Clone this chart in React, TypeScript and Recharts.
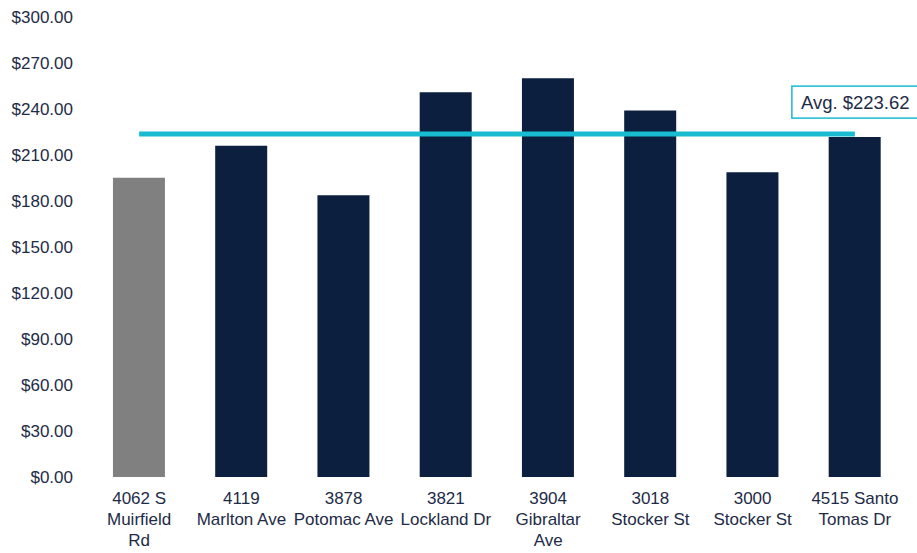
import React from "react";
import { ComposedChart, Bar, Line, XAxis, YAxis, Cell, LabelList } from "recharts";

const categories = [
  "4062 S Muirfield Rd",
  "4119 Marlton Ave",
  "3878 Potomac Ave",
  "3821 Lockland Dr",
  "3904 Gibraltar Ave",
  "3018 Stocker St",
  "3000 Stocker St",
  "4515 Santo Tomas Dr",
];
const tickLines: string[][] = [
  ["4062 S", "Muirfield", "Rd"],
  ["4119", "Marlton Ave"],
  ["3878", "Potomac Ave"],
  ["3821", "Lockland Dr"],
  ["3904", "Gibraltar", "Ave"],
  ["3018", "Stocker St"],
  ["3000", "Stocker St"],
  ["4515 Santo", "Tomas Dr"],
];
const rents = [195.2, 216.1, 183.7, 250.9, 260.0, 239.1, 198.7, 221.7];
const average = 223.62;
const yTicks = [0, 30, 60, 90, 120, 150, 180, 210, 240, 270, 300];
const barColors = ["#808080", "#0C1F3E", "#0C1F3E", "#0C1F3E", "#0C1F3E", "#0C1F3E", "#0C1F3E", "#0C1F3E"];

const data = categories.map((c, i) => ({ name: c, rent: rents[i], avg: average, idx: i }));

const TEXT = "#1E2B47";
const CYAN = "#19BBD0";
const FONT = "'Liberation Sans', Arial, Helvetica, sans-serif";

const XTick = (props: any) => {
  const { x, y, payload } = props;
  const lines = tickLines[payload.index] || [String(payload.value)];
  return (
    <text x={x} y={y + 27} textAnchor="middle" fill={TEXT} fontSize={17} fontFamily={FONT}>
      {lines.map((l, i) => (
        <tspan key={i} x={x} dy={i === 0 ? 0 : 21}>
          {l}
        </tspan>
      ))}
    </text>
  );
};

const AvgLabel = (props: any) => {
  const { x, y, index } = props;
  if (index !== categories.length - 1) return null;
  const left = x - 63;
  const top = y - 48;
  return (
    <g>
      <rect x={left} y={top} width={130} height={32} fill="#ffffff" stroke={CYAN} strokeWidth={1.5} />
      <text x={left + 9} y={top + 22.5} fill={TEXT} fontSize={18.5} fontFamily={FONT}>
        {`Avg. $${average.toFixed(2)}`}
      </text>
    </g>
  );
};

export default function App() {
  return (
    <div style={{ position: "absolute", left: 0, top: 0, width: 917, height: 553, background: "#fff" }}>
      <ComposedChart
        width={917}
        height={553}
        data={data}
        margin={{ top: 17, right: 11, bottom: 0, left: 8 }}
        barCategoryGap="24.4%"
      >
        <XAxis
          dataKey="name"
          axisLine={false}
          tickLine={false}
          tickSize={0}
          tickMargin={0}
          interval={0}
          tick={<XTick />}
          height={76}
        />
        <YAxis
          domain={[0, 300]}
          ticks={yTicks}
          axisLine={false}
          tickLine={false}
          tickSize={0}
          tickMargin={15}
          width={80}
          interval={0}
          tick={{ fill: TEXT, fontSize: 17, fontFamily: FONT }}
          tickFormatter={(v: number) => `$${v.toFixed(2)}`}
        />
        <Bar dataKey="rent" isAnimationActive={false}>
          {data.map((d, i) => (
            <Cell key={i} fill={barColors[i]} />
          ))}
        </Bar>
        <Line
          dataKey="avg"
          stroke={CYAN}
          strokeWidth={5}
          dot={false}
          activeDot={false}
          isAnimationActive={false}
          type="linear"
        >
          <LabelList dataKey="avg" content={<AvgLabel />} />
        </Line>
      </ComposedChart>
    </div>
  );
}
